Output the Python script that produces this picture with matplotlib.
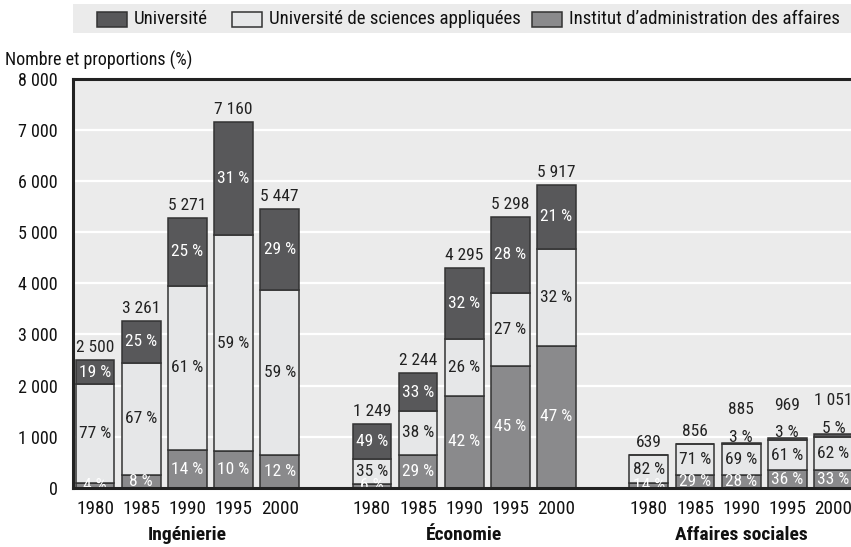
import matplotlib
matplotlib.use('Agg')
import matplotlib.pyplot as plt
from matplotlib.patches import Rectangle
import matplotlib.transforms as mtransforms
import numpy as np

FONT = ['Roboto Condensed', 'Liberation Sans Narrow', 'Archivo Narrow', 'DejaVu Sans']
plt.rcParams['font.family'] = FONT

groups = ['Ingénierie', 'Économie', 'Affaires sociales']
years = ['1980', '1985', '1990', '1995', '2000']
series = ['Université', 'Université de sciences appliquées', "Institut d’administration des affaires"]

totals = [2500, 3261, 5271, 7160, 5447,
          1249, 2244, 4295, 5298, 5917,
          639, 856, 885, 969, 1051]
pct_iaa = [4, 8, 14, 10, 12,
           6, 29, 42, 45, 47,
           14, 29, 28, 36, 33]
pct_usa = [77, 67, 61, 59, 59,
           35, 38, 26, 27, 32,
           82, 71, 69, 61, 62]
pct_univ = [19, 25, 25, 31, 29,
            49, 33, 32, 28, 21,
            0, 0, 3, 3, 5]

c_univ = '#58585a'
c_usa = '#e6e7e8'
c_iaa = '#8a8a8c'
edge = '#333333'

W, H = 851, 547
fig = plt.figure(figsize=(W / 100, H / 100), dpi=100)
fig.patch.set_facecolor('white')

ax_left, ax_right, ax_top, ax_bot = 73, 851, 78.6, 488
ax = fig.add_axes([ax_left / W, 1 - ax_bot / H, (ax_right - ax_left) / W, (ax_bot - ax_top) / H])
ax.set_facecolor('#ebebeb')

pos = []
for g in range(len(groups)):
    for i in range(len(years)):
        pos.append(g * 6 + i)
pos = np.array(pos, dtype=float)

tot = np.array(totals, dtype=float)
p_i = np.array(pct_iaa, dtype=float)
p_s = np.array(pct_usa, dtype=float)
p_u = np.array(pct_univ, dtype=float)
psum = p_i + p_s + p_u
h_i = tot * p_i / psum
h_s = tot * p_s / psum
h_u = tot * p_u / psum

bw = 0.84
ax.bar(pos, h_i, bw, color=c_iaa, edgecolor=edge, linewidth=1.1, zorder=2)
ax.bar(pos, h_s, bw, bottom=h_i, color=c_usa, edgecolor=edge, linewidth=1.1, zorder=2)
ax.bar(pos, h_u, bw, bottom=h_i + h_s, color=c_univ, edgecolor=edge, linewidth=1.1, zorder=2)

ax.set_ylim(0, 8000)
ax.set_xlim(-0.477, 16.38)
ax.set_yticks(np.arange(0, 8001, 1000))
ax.set_yticklabels([f"{v:,}".replace(',', ' ') for v in range(0, 8001, 1000)],
                   fontsize=13, color='#111111')
for y in range(1000, 8000, 1000):
    ax.axhline(y, color='white', lw=1.6, zorder=1)

ax.set_xticks(pos)
ax.set_xticklabels(years * len(groups), fontsize=13.8, color='#111111')
ax.tick_params(axis='both', length=0)
ax.tick_params(axis='y', pad=11)
ax.tick_params(axis='x', pad=9)

for s in ['left', 'top', 'bottom']:
    ax.spines[s].set_linewidth(2.2)
    ax.spines[s].set_color('#222222')
    ax.spines[s].set_zorder(6)
ax.spines['right'].set_visible(False)

def fmt(v):
    return f"{v:,}".replace(',', ' ')

lbl_fs = 12.5
for k in range(len(pos)):
    x = pos[k]
    segs = [(h_i[k], 0, p_i[k], 'white'),
            (h_s[k], h_i[k], p_s[k], '#222222'),
            (h_u[k], h_i[k] + h_s[k], p_u[k], 'white')]
    top = h_i[k] + h_s[k] + h_u[k]
    small_top = False
    for j, (h, b, p, col) in enumerate(segs):
        if p <= 0:
            continue
        if j == 2 and h < 120:
            small_top = True
            ax.annotate(f"{int(p)} %", (x, top), xytext=(0, 4), textcoords='offset points',
                        ha='center', va='center', fontsize=lbl_fs, color='#222222', zorder=4)
        else:
            ax.text(x, b + h / 2, f"{int(p)} %", ha='center', va='center',
                    fontsize=lbl_fs, color=col, zorder=4)
    off = 24 if small_top else 9
    ax.annotate(fmt(totals[k]), (x, tot[k]), xytext=(0, off), textcoords='offset points',
                ha='center', va='center', fontsize=lbl_fs, color='#222222', zorder=4)

trans = mtransforms.blended_transform_factory(ax.transData, fig.transFigure)
for g, name in enumerate(groups):
    ax.text(g * 6 + 2, 1 - 535 / H, name, transform=trans, ha='center', va='center',
            fontsize=14, fontweight='bold', color='#111111')

fig.text(5 / W, 1 - 60 / H, 'Nombre et proportions (%)', ha='left', va='center',
         fontsize=13, color='#111111')

# legend band
fig.patches.append(Rectangle((73 / W, 1 - 33 / H), (W - 73) / W, 29 / H,
                             transform=fig.transFigure, facecolor='#ebebeb',
                             edgecolor='none', zorder=0))
leg_colors = [c_univ, c_usa, c_iaa]
leg_x = [97, 232, 532]
for xpx, col, name in zip(leg_x, leg_colors, series):
    fig.patches.append(Rectangle((xpx / W, 1 - 27 / H), 30 / W, 15 / H,
                                 transform=fig.transFigure, facecolor=col,
                                 edgecolor=edge, linewidth=1.1, zorder=2))
    fig.text((xpx + 37) / W, 1 - 19.5 / H, name, ha='left', va='center',
             fontsize=13.6, color='#111111')

fig.savefig('out.png', dpi=100)
